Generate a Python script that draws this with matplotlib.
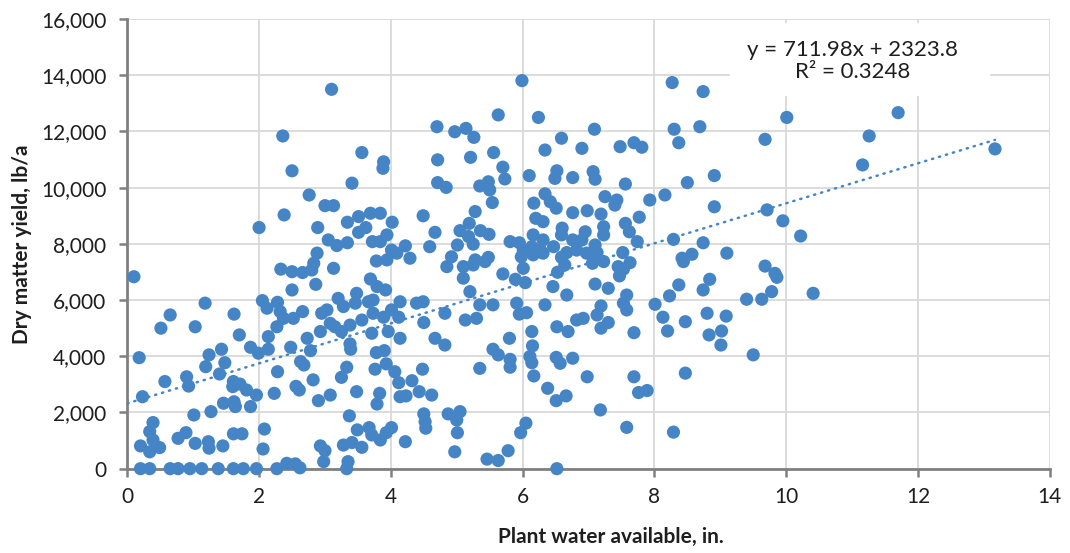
import matplotlib
matplotlib.use('Agg')
import matplotlib.pyplot as plt
from matplotlib.patches import Rectangle
from matplotlib.ticker import FuncFormatter, MultipleLocator

# values (x = plant water available, in.; y = dry matter yield, lb/a)
water_in = [
    # left / low group
    0.10, 1.18, 2.12, 0.65, 0.51, 1.03, 1.62, 1.70, 2.27, 2.37, 2.52, 2.14, 1.87, 1.99,
    2.14, 2.48, 2.63, 0.18, 1.24, 1.43, 1.48, 1.19, 1.40, 0.90, 0.93, 0.57, 2.28, 1.61,
    1.71, 1.81, 1.96, 2.23, 2.56, 1.60, 0.23, 1.62, 1.46, 1.64, 1.87, 1.27, 1.01, 0.39,
    0.34, 0.39, 0.20, 0.34, 0.49, 0.77, 0.89, 1.03, 1.23, 1.24, 1.45, 1.61, 1.74, 2.08,
    2.06, 0.20, 0.34, 0.65, 0.77, 0.95, 1.13, 1.38, 1.61, 1.76, 1.96, 2.27,
    # 2-5 in., upper
    3.10, 2.36, 3.56, 3.89, 3.88, 4.70, 4.71, 4.71, 2.50, 3.41, 2.76, 3.00, 3.13, 2.38,
    2.00, 2.89, 3.34, 3.51, 3.69, 3.84, 4.02, 4.49, 3.62, 3.51, 3.94, 3.72, 3.84, 4.67,
    4.59, 3.05, 3.18, 3.34, 2.88, 2.83, 2.80, 2.33, 2.50, 2.66, 3.13, 4.01, 4.22, 4.29,
    4.09, 3.94, 3.78, 3.69, 3.79, 3.92, 2.86, 2.50, 2.05, 2.28, 3.20, 3.48, 3.73, 4.14,
    4.39, 4.49,
    # 2-5 in., lower
    4.85, 5.10, 5.25, 5.10, 5.20, 3.28, 3.46, 3.66, 3.03, 2.95, 3.73, 3.89, 3.56, 4.01,
    2.32, 2.66, 4.12, 4.50, 4.82, 5.13, 5.30, 3.08, 2.93, 3.15, 3.38, 3.25, 3.71, 3.96,
    4.14, 4.67, 4.82, 2.73, 2.78, 3.38, 3.39, 2.68, 3.78, 3.90, 3.33, 3.25, 3.76, 3.93,
    4.06, 4.12, 4.32, 4.48, 5.35, 2.82, 2.61, 2.90, 3.08, 3.48, 3.83, 3.79, 4.14, 4.23,
    4.43, 4.62, 3.37, 3.49, 3.67, 3.84, 3.71, 3.93, 4.01, 4.22, 4.50, 4.52, 4.53, 4.87,
    5.05, 5.00, 5.01, 4.97, 3.28, 3.41, 3.56, 2.93, 3.00, 2.98, 3.35, 3.33, 2.42, 2.55,
    2.62,
    # 5-8 in., upper
    5.99, 5.63, 6.24, 4.97, 5.14, 5.26, 7.09, 6.59, 6.34, 6.90, 7.48, 7.69, 7.81, 5.56,
    5.21, 5.70, 5.73, 6.10, 6.52, 6.49, 6.76, 7.07, 7.10, 7.56, 4.84, 5.35, 5.48, 5.50,
    5.54, 6.34, 6.42, 6.51, 6.17, 7.25, 7.43, 7.40, 7.93, 7.77, 5.28, 6.20, 6.31, 6.76,
    6.98, 7.19, 5.19, 5.05, 5.36, 5.49, 5.18, 5.25, 5.01, 4.92, 5.28, 5.43, 5.48, 5.81,
    5.95, 6.16, 6.31, 6.01, 6.14, 6.27, 5.98, 6.16, 6.31, 6.47, 6.59, 6.60, 6.76, 6.67,
    6.59, 6.90, 6.95, 7.10, 7.23, 7.23, 7.56, 7.62, 7.74, 6.82, 6.97, 7.13, 6.64, 7.06,
    7.23, 7.52, 7.63, 7.45, 7.53, 7.47, 6.01, 5.70, 5.89, 6.04, 6.46, 6.53, 7.10, 7.30,
    7.58, 6.67,
    # 5-8 in., lower
    7.53, 7.58, 5.35, 5.55, 5.91, 5.95, 6.06, 6.34, 6.14, 6.52, 6.69, 6.82, 6.92, 7.13,
    7.19, 7.19, 7.30, 7.69, 5.80, 5.55, 5.63, 5.81, 5.81, 6.15, 6.11, 6.14, 6.17, 6.51,
    6.57, 6.76, 6.98, 7.69, 7.76, 7.89, 6.38, 6.51, 6.66, 7.18, 7.58, 6.05, 5.97, 5.46,
    5.63, 5.78, 6.52,
    # 8 in. and more
    8.27, 8.74, 10.01, 8.30, 8.69, 9.68, 8.37, 8.91, 8.50, 8.16, 8.91, 9.71, 9.95, 10.22,
    8.29, 8.74, 9.10, 8.42, 8.44, 8.57, 9.68, 9.83, 9.86, 8.84, 8.37, 8.74, 8.23, 9.40,
    9.63, 9.78, 10.41, 8.01, 8.13, 8.47, 8.80, 9.09, 8.20, 8.83, 9.02, 9.01, 9.50, 8.47,
    8.29, 11.70, 11.26, 11.16, 13.17,
]

yield_lba = [
    # left / low group
    6830, 5890, 5710, 5470, 5000, 5050, 5500, 4760, 5050, 5350, 5350, 4700, 4320, 4110,
    4250, 4320, 3810, 3950, 4050, 4250, 3770, 3630, 3370, 3270, 2940, 3100, 3450, 3100,
    3010, 2800, 2620, 2680, 2930, 2920, 2560, 2380, 2330, 2210, 2210, 2030, 1910, 1640,
    1320, 1020, 810, 600, 750, 1080, 1280, 900, 960, 730, 810, 1240, 1240, 1410,
    700, 0, 0, 0, 0, 0, 0, 0, 0, 0, 0, 0,
    # 2-5 in., upper
    13500, 11840, 11250, 10920, 10690, 12170, 10990, 10180, 10600, 10160, 9740, 9360, 9360, 9030,
    8580, 8580, 8770, 8970, 9090, 9090, 8770, 9000, 8580, 8410, 8320, 8080, 8080, 8410,
    7900, 8140, 7940, 8040, 7670, 7310, 7070, 7100, 7010, 6980, 7130, 7780, 7930, 7490,
    7670, 7430, 7390, 6750, 6480, 6360, 6560, 6360, 5980, 5920, 6060, 6240, 6000, 5940,
    5890, 5940,
    # 2-5 in., lower
    7190, 7190, 7250, 6780, 6300, 5770, 5890, 5940, 5650, 5530, 5530, 5390, 5290, 5650,
    5590, 5590, 5390, 5200, 5530, 5290, 5350, 5170, 4880, 5050, 5110, 4880, 4820, 4880,
    4640, 4640, 4400, 4640, 4200, 4440, 4250, 3690, 4130, 4200, 3610, 3250, 3540, 3730,
    3450, 3060, 3130, 3540, 3570, 3160, 2800, 2420, 2620, 2740, 2680, 2300, 2560, 2590,
    2740, 2620, 1880, 1380, 1460, 1020, 1200, 1280, 1460, 960, 1950, 1670, 1440, 1950,
    2030, 1730, 1280, 600, 840, 930, 760, 810, 640, 250, 250, 0, 190, 170,
    30,
    # 5-8 in., upper
    13810, 12590, 12500, 11990, 12110, 11790, 12080, 11760, 11340, 11400, 11460, 11600, 11440, 11250,
    11080, 10730, 10310, 10430, 10600, 10330, 10360, 10570, 10300, 10130, 10010, 10060, 10210, 9920,
    9470, 9780, 9500, 9270, 9450, 9680, 9560, 9380, 9560, 8950, 9150, 8910, 8790, 9110,
    9180, 9060, 8730, 8470, 8470, 8340, 8260, 7990, 7960, 7540, 7430, 7370, 7520, 8080,
    8040, 8320, 8140, 7780, 7900, 7780, 7540, 7610, 7670, 7900, 8320, 8560, 8140, 7690,
    7520, 8140, 8430, 7960, 8610, 8320, 8730, 8430, 8080, 7780, 7670, 7690, 7250, 7310,
    7370, 7690, 7330, 7190, 7100, 6860, 7130, 6930, 6740, 6620, 6480, 6990, 6570, 6420,
    6180, 6180,
    # 5-8 in., lower
    5890, 5650, 5830, 5830, 5890, 5500, 5550, 5830, 4880, 5050, 4880, 5290, 5350, 5470,
    5790, 5000, 5200, 4840, 4640, 4250, 4050, 3890, 3610, 4370, 3990, 3770, 3300, 3960,
    3750, 3930, 3270, 3270, 2710, 2780, 2860, 2420, 2590, 2090, 1470, 1620, 1280, 340,
    290, 640, 0,
    # 8 in. and more
    13740, 13420, 12500, 12080, 12170, 11720, 11600, 10430, 10180, 9740, 9320, 9210, 8820, 8280,
    8160, 8040, 7670, 7490, 7370, 7630, 7210, 6950, 6810, 6740, 6540, 6360, 6150, 6030,
    6030, 6300, 6240, 5850, 5390, 5230, 5530, 5430, 4900, 4760, 4900, 4400, 4050, 3400,
    1300, 12670, 11840, 10810, 11380,
]

# linear trendline printed on the chart
slope = 711.98
intercept = 2323.8
r_squared = 0.3248

blue = '#4585C6'
axis_gray = '#808080'
grid_gray = '#D9D9D9'
text_dark = '#1E1E1E'

plt.rcParams['font.family'] = ['Lato', 'DejaVu Sans']

fig = plt.figure(figsize=(10.70, 5.53), dpi=100)
ax = fig.add_axes([0.119, 0.1525, 0.862, 0.813])

ax.scatter(water_in, yield_lba, s=90, color=blue, edgecolors='none', zorder=3, clip_on=False)

x_end = max(water_in)
ax.plot([0, x_end], [intercept, intercept + slope * x_end], color=blue, lw=1.8,
        linestyle=(0, (0.5, 2.4)), dash_capstyle='round', zorder=4)

# white label box behind the equation
ax.add_patch(Rectangle((9.15, 13260), 3.95, 2600, facecolor='white', edgecolor='none', zorder=2))
ax.text(11.01, 14500, f'y = {slope}x + {intercept}\nR² = {r_squared}', ha='center', va='center',
        fontsize=16, color=text_dark, linespacing=1.1, zorder=5)

ax.set_xlim(0, 14)
ax.set_ylim(0, 16000)
ax.xaxis.set_major_locator(MultipleLocator(2))
ax.yaxis.set_major_locator(MultipleLocator(2000))
ax.yaxis.set_major_formatter(FuncFormatter(lambda v, p: f'{int(v):,}'))

ax.set_axisbelow(True)
ax.grid(True, color=grid_gray, lw=1.3)
for side in ['top', 'right']:
    ax.spines[side].set_visible(False)
for side in ['left', 'bottom']:
    ax.spines[side].set_color(axis_gray)
    ax.spines[side].set_linewidth(2)
ax.tick_params(direction='out', length=6, width=1.8, color=axis_gray, labelsize=15,
               labelcolor=text_dark)
ax.tick_params(axis='y', pad=9)
ax.tick_params(axis='x', pad=7)

ax.set_xlabel('Plant water available, in.', fontsize=15, fontweight='bold', color=text_dark)
ax.set_ylabel('Dry matter yield, lb/a', fontsize=15, fontweight='bold', color=text_dark)
ax.xaxis.label.set_va('center')
ax.yaxis.label.set_va('center')
ax.xaxis.set_label_coords(0.524, -0.151)
ax.yaxis.set_label_coords(-0.114, 0.5)

fig.savefig('out.png', dpi=100)
